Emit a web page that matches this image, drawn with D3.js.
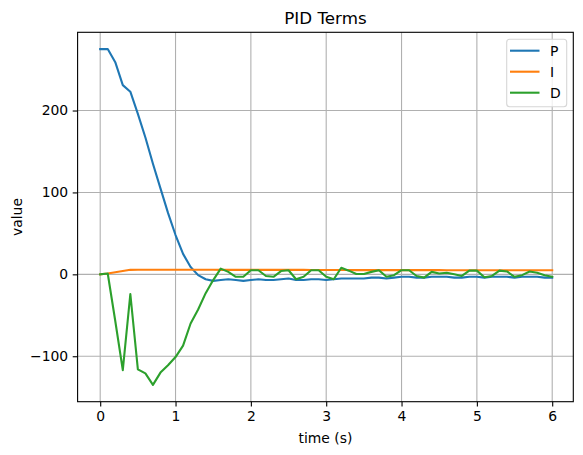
<!DOCTYPE html>
<html>
<head>
<meta charset="utf-8">
<script src="https://cdn.jsdelivr.net/npm/d3@7"></script>
<style>
    body { margin: 0; background: #fff; }
    text { font-family: "DejaVu Sans", sans-serif; fill: #000; }
</style>
</head>
<body>
<svg id="chart" width="583" height="455"></svg>
<script>

// sample times (s)
const time = [0.0, 0.1, 0.2, 0.3, 0.4, 0.5, 0.6, 0.7, 0.8, 0.9,
    1.0, 1.1, 1.2, 1.3, 1.4, 1.5, 1.6, 1.7, 1.8, 1.9,
    2.0, 2.1, 2.2, 2.3, 2.4, 2.5, 2.6, 2.7, 2.8, 2.9,
    3.0, 3.1, 3.2, 3.3, 3.4, 3.5, 3.6, 3.7, 3.8, 3.9,
    4.0, 4.1, 4.2, 4.3, 4.4, 4.5, 4.6, 4.7, 4.8, 4.9,
    5.0, 5.1, 5.2, 5.3, 5.4, 5.5, 5.6, 5.7, 5.8, 5.9, 6.0];

// proportional term
const pTerm = [275, 275, 259, 231, 223, 196, 167, 135, 105, 75,
    48, 25, 9, -1, -6, -8, -7, -6, -7, -8,
    -7, -6, -7, -7, -6, -5, -7, -7, -6, -6,
    -7, -6, -5, -5, -5, -5, -4, -4, -5, -4,
    -3, -3, -4, -4, -3, -3, -3, -4, -4, -3,
    -3, -4, -3, -3, -3, -4, -3, -3, -3, -4, -4];

// integral term
const iTerm = [0, 1, 2.5, 4, 5.5, 5.6, 5.6, 5.6, 5.6, 5.6,
    5.6, 5.6, 5.6, 5.6, 5.6, 5.6, 5.5, 5.5, 5.5, 5.5,
    5.5, 5.5, 5.4, 5.4, 5.4, 5.4, 5.4, 5.4, 5.3, 5.3,
    5.3, 5.3, 5.3, 5.3, 5.2, 5.2, 5.2, 5.2, 5.2, 5.2,
    5.1, 5.1, 5.1, 5.1, 5.1, 5.1, 5.0, 5.0, 5.0, 5.0,
    5.0, 5.0, 5.0, 5.0, 5.0, 4.9, 4.9, 4.9, 4.9, 4.9, 4.9];

// derivative term
const dTerm = [0, 1, -57, -117, -24, -116, -121, -135, -120, -111,
    -101, -87, -60, -43, -23, -7, 7, 3, -3, -3,
    5, 5, -2, -3, 4, 5, -6, -3, 5, 5,
    -3, -6, 8, 4.5, 0.5, 0.5, 3, 5, -3, -1,
    5, 5, -2, -4, 3, 1, 2, 0, -2, 4.5,
    4.5, -3.5, -2, 4.5, 3.5, -3, -1, 3.5, 2, -1, -3];

const seriesNames = ["P", "I", "D"];
const seriesColors = ["#1f77b4", "#ff7f0e", "#2ca02c"];
const xTicks = [0, 1, 2, 3, 4, 5, 6];
const yTicks = [-100, 0, 100, 200];

const svg = d3.select("#chart");

// axes box
const axLeft = 77.6, axRight = 573.3, axTop = 32.3, axBottom = 401.7;

const x = d3.scaleLinear().domain([-0.3, 6.28]).range([axLeft, axRight]);
const y = d3.scaleLinear().domain([-155.5, 295.5]).range([axBottom, axTop]);

// grid lines
const grid = svg.append("g").attr("class", "grid");
grid.selectAll(".gx").data(xTicks).enter().append("line")
    .attr("x1", d => x(d)).attr("x2", d => x(d))
    .attr("y1", axTop).attr("y2", axBottom)
    .attr("stroke", "#b0b0b0").attr("stroke-width", 1.1);
grid.selectAll(".gy").data(yTicks).enter().append("line")
    .attr("x1", axLeft).attr("x2", axRight)
    .attr("y1", d => y(d)).attr("y2", d => y(d))
    .attr("stroke", "#b0b0b0").attr("stroke-width", 1.1);

// the three terms
const allSeries = [pTerm, iTerm, dTerm];
const line = d3.line()
    .x((d, i) => x(time[i]))
    .y(d => y(d));

svg.append("g").selectAll("path").data(allSeries).enter().append("path")
    .attr("d", line)
    .attr("fill", "none")
    .attr("stroke", (d, i) => seriesColors[i])
    .attr("stroke-width", 2.1)
    .attr("stroke-linejoin", "round")
    .attr("stroke-linecap", "square");

// axes
const xAxis = d3.axisBottom(x).tickValues(xTicks).tickSize(4.9).tickPadding(4.5)
    .tickFormat(d3.format("d"));
const yAxis = d3.axisLeft(y).tickValues(yTicks).tickSize(4.9).tickPadding(4.5)
    .tickFormat(d => d < 0 ? "\u2212" + Math.abs(d) : d);

const gx = svg.append("g").attr("transform", `translate(0,${axBottom})`).call(xAxis);
const gy = svg.append("g").attr("transform", `translate(${axLeft},0)`).call(yAxis);
[gx, gy].forEach(g => {
    g.select(".domain").remove();
    g.selectAll(".tick line").attr("stroke", "#000").attr("stroke-width", 1.1);
    g.selectAll(".tick text").style("font-family", "DejaVu Sans").style("font-size", "13.9px");
});

// frame
svg.append("rect")
    .attr("x", axLeft).attr("y", axTop)
    .attr("width", axRight - axLeft).attr("height", axBottom - axTop)
    .attr("fill", "none").attr("stroke", "#000").attr("stroke-width", 1.1);

// title and labels
svg.append("text")
    .attr("x", (axLeft + axRight) / 2).attr("y", 24)
    .attr("text-anchor", "middle")
    .style("font-size", "16.7px")
    .text("PID Terms");

svg.append("text")
    .attr("x", (axLeft + axRight) / 2).attr("y", 442.5)
    .attr("text-anchor", "middle")
    .style("font-size", "13.9px")
    .text("time (s)");

svg.append("text")
    .attr("transform", `translate(21.5, ${(axTop + axBottom) / 2}) rotate(-90)`)
    .attr("text-anchor", "middle")
    .style("font-size", "13.9px")
    .text("value");

// legend
const legend = svg.append("g");
legend.append("rect")
    .attr("x", 506.7).attr("y", 39.3)
    .attr("width", 60).attr("height", 67.4)
    .attr("rx", 3)
    .attr("fill", "#fff").attr("fill-opacity", 0.8)
    .attr("stroke", "#d6d6d6").attr("stroke-width", 1.1);

const rows = legend.selectAll(".row").data(seriesNames).enter().append("g")
    .attr("transform", (d, i) => `translate(0, ${50.7 + i * 21})`);
rows.append("line")
    .attr("x1", 510).attr("x2", 539.5)
    .attr("stroke", (d, i) => seriesColors[i])
    .attr("stroke-width", 2.1);
rows.append("text")
    .attr("x", 550).attr("y", 5)
    .style("font-size", "13.9px")
    .text(d => d);
</script>
</body>
</html>
